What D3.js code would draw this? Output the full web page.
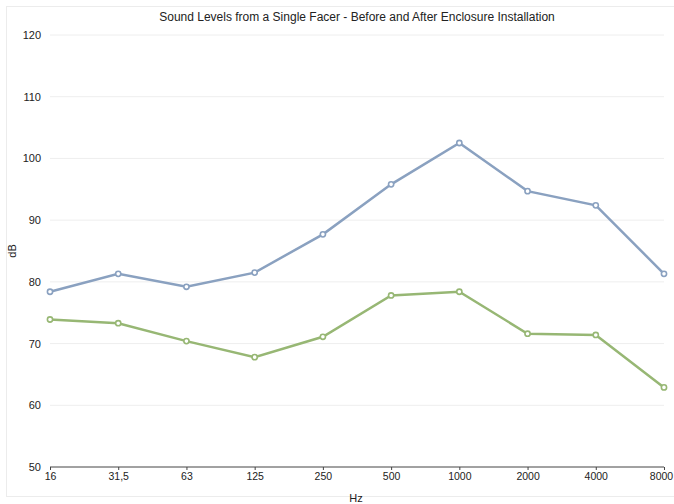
<!DOCTYPE html>
<html lang="en">
<head>
  <meta charset="UTF-8">
  <title>Sound Levels from a Single Facer</title>
  <script src="https://d3js.org/d3.v7.min.js"></script>
  <style>
    body { margin: 0; background: #fff; }
    text { font-family: "Liberation Sans", Arial, sans-serif; fill: #222; }
  </style>
</head>
<body>
  <div id="chart"></div>

  <script>
    // Data
    const categories = ["16", "31,5", "63", "125", "250", "500", "1000", "2000", "4000", "8000"];
    const before = [78.4, 81.3, 79.2, 81.5, 87.7, 95.8, 102.5, 94.7, 92.4, 81.3];
    const after = [73.9, 73.3, 70.4, 67.8, 71.1, 77.8, 78.4, 71.6, 71.4, 62.9];
    const yTicks = [50, 60, 70, 80, 90, 100, 110, 120];

    const width = 674, height = 504;
    const margin = {top: 35, right: 10, bottom: 37, left: 50};

    const svg = d3.select("#chart").append("svg")
      .attr("width", width)
      .attr("height", height);

    // faint frame
    svg.append("rect")
      .attr("x", 6.5).attr("y", 6.5)
      .attr("width", width).attr("height", 490)
      .attr("fill", "none")
      .attr("stroke", "#ececec");

    const x = d3.scalePoint()
      .domain(categories)
      .range([margin.left, width - margin.right]);

    const y = d3.scaleLinear()
      .domain([50, 120])
      .range([height - margin.bottom, margin.top]);

    // gridlines
    svg.append("g")
      .selectAll("line")
      .data(yTicks.slice(1))
      .enter()
      .append("line")
      .attr("x1", margin.left)
      .attr("x2", width - margin.right)
      .attr("y1", d => y(d))
      .attr("y2", d => y(d))
      .attr("stroke", "#eeeeee");

    // y axis labels
    const yAxis = svg.append("g")
      .attr("transform", `translate(${margin.left},0)`)
      .call(d3.axisLeft(y).tickValues(yTicks).tickSize(0).tickPadding(9));
    yAxis.select(".domain").remove();
    yAxis.selectAll("text").style("font-size", "11px");

    // x axis
    const xAxis = svg.append("g")
      .attr("transform", `translate(0,${y(50)})`)
      .call(d3.axisBottom(x).tickSize(3).tickPadding(3));
    xAxis.select(".domain").attr("stroke", "#444").attr("d", `M${margin.left},0H${width - margin.right}`);
    xAxis.selectAll(".tick line").attr("stroke", "#444");
    xAxis.selectAll("text").style("font-size", "10.5px");
    // last label sits at the page edge, nudge it in
    xAxis.selectAll("text").filter(d => d === "8000").attr("dx", -3);

    // title and axis titles
    svg.append("text")
      .attr("x", 357).attr("y", 21)
      .attr("text-anchor", "middle")
      .style("font-size", "12px")
      .text("Sound Levels from a Single Facer - Before and After Enclosure Installation");

    svg.append("text")
      .attr("x", 356).attr("y", 502)
      .attr("text-anchor", "middle")
      .style("font-size", "11px")
      .text("Hz");

    svg.append("text")
      .attr("transform", `translate(16,${y(85)}) rotate(-90)`)
      .attr("text-anchor", "middle")
      .style("font-size", "11px")
      .text("dB");

    // series
    const series = [
      {values: before, color: "#8aa1c0"},
      {values: after, color: "#97b774"}
    ];

    const line = d3.line()
      .x((d, i) => x(categories[i]))
      .y(d => y(d));

    series.forEach(s => {
      svg.append("path")
        .datum(s.values)
        .attr("d", line)
        .attr("fill", "none")
        .attr("stroke", s.color)
        .attr("stroke-width", 2.5);

      svg.append("g")
        .selectAll("circle")
        .data(s.values)
        .enter()
        .append("circle")
        .attr("cx", (d, i) => x(categories[i]))
        .attr("cy", d => y(d))
        .attr("r", 2.6)
        .attr("fill", "#fff")
        .attr("stroke", s.color)
        .attr("stroke-width", 1.6);
    });
  </script>
</body>
</html>
